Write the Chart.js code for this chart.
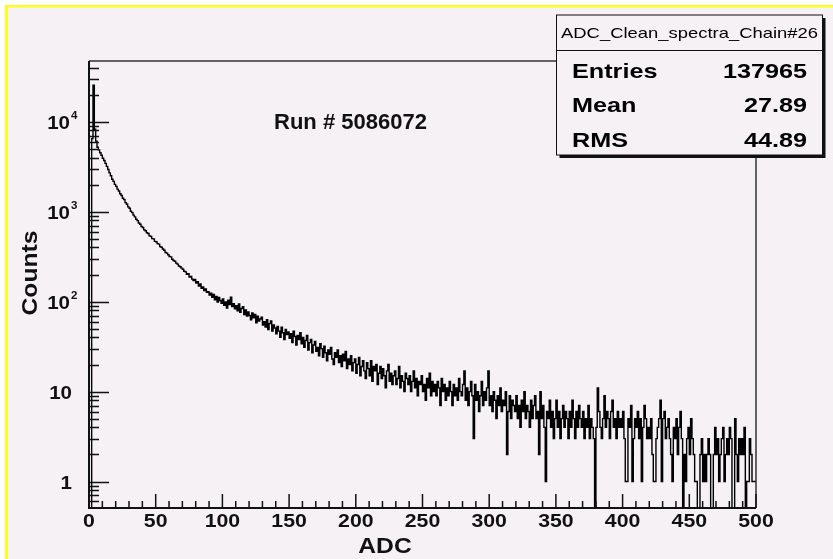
<!DOCTYPE html>
<html>
<head>
<meta charset="utf-8">
<script src="https://cdn.jsdelivr.net/npm/chart.js@4/dist/chart.umd.min.js"></script>
<style>
  html, body { margin: 0; padding: 0; background: #fff; }
  canvas { display: block; }
</style>
</head>
<body>
<canvas id="adcChart" width="833" height="559"></canvas>
<script>
'use strict'
const runLabel = 'Run # 5086072';
const histName = 'ADC_Clean_spectra_Chain#26';
const statNames = ['Entries', 'Mean', 'RMS'];
const statValues = ['137965', '27.89', '44.89'];
const xTitle = 'ADC';
const yTitle = 'Counts';
const xTickValues = [0, 50, 100, 150, 200, 250, 300, 350, 400, 450, 500];
const yTickValues = [1, 10, 100, 1000, 10000];
const yTickBases = ['1', '10', '10', '10', '10'];
const yTickPowers = ['', '', '2', '3', '4'];
const yMin = 0.508;
const yMax = 47300;

// counts per 1-ADC bin, bins 0..499
const adcCounts = [
  0, 0, 0, 6480, 25400, 8260, 6090, 5210, 4860, 4510,
  4240, 3930, 3710, 3440, 3190, 2940, 2700, 2510, 2290, 2170,
  2010, 1910, 1780, 1700, 1580, 1510, 1410, 1360, 1260, 1210,
  1130, 1090, 1010, 975, 915, 876, 822, 796, 748, 726,
  684, 668, 628, 614, 582, 571, 538, 531, 502, 498,
  468, 463, 441, 436, 409, 402, 384, 372, 351, 346,
  332, 318, 314, 296, 287, 281, 268, 261, 249, 244,
  236, 229, 218, 214, 201, 204, 187, 190, 178, 171,
  176, 161, 166, 149, 157, 141, 146, 133, 138, 127,
  129, 118, 124, 112, 120, 105, 114, 99, 111, 103,
  96, 107, 91, 99, 85, 104, 93, 112, 88, 95,
  83, 90, 79, 94, 76, 84, 88, 72, 81, 69,
  77, 70, 63, 75, 66, 72, 58, 69, 61, 64,
  67, 55, 60, 52, 63, 49, 57, 61, 47, 55,
  51, 44, 53, 47, 40, 52, 45, 38, 49, 43,
  46, 39, 44, 35, 47, 41, 33, 42, 38, 45,
  34, 40, 31, 37, 42, 29, 35, 38, 27, 33,
  36, 28, 31, 25, 34, 30, 24, 32, 27, 22,
  29, 26, 31, 23, 20, 27, 24, 29, 21, 25,
  19, 26, 22, 28, 18, 23, 20, 25, 17, 21,
  23, 16, 20, 24, 15, 19, 22, 17, 14, 21,
  18, 15, 22, 13, 19, 17, 20, 12, 16, 19,
  14, 18, 15, 11, 17, 20, 13, 16, 12, 15,
  17, 12, 14, 19, 11, 15, 13, 10, 16, 14,
  12, 15, 10, 13, 17, 11, 14, 9, 13, 12,
  15, 10, 12, 8, 14, 11, 16, 9, 13, 10,
  12, 9, 13, 11, 7, 14, 10, 12, 8, 11,
  9, 13, 10, 7, 12, 9, 11, 8, 14, 10,
  9, 12, 17, 8, 11, 7, 10, 13, 9, 3,
  12, 8, 10, 6, 9, 13, 7, 10, 8, 11,
  17, 7, 9, 6, 10, 8, 5, 9, 7, 11,
  6, 8, 7, 10, 2, 6, 9, 5, 8, 7,
  6, 9, 5, 7, 4, 8, 6, 10, 5, 7,
  6, 4, 8, 5, 7, 9, 5, 6, 2, 10,
  5, 7, 4, 1, 6, 5, 8, 4, 6, 3,
  5, 8, 4, 6, 3, 5, 7, 4, 6, 5,
  3, 6, 4, 8, 5, 3, 6, 4, 7, 5,
  4, 6, 3, 5, 4, 7, 3, 5, 4, 3,
  0, 4, 11, 6, 4, 3, 5, 9, 4, 6,
  5, 3, 6, 8, 4, 5, 3, 6, 4, 5,
  4, 6, 3, 1, 1, 5, 4, 7, 1, 3,
  5, 4, 6, 3, 5, 1, 4, 7, 5, 3,
  4, 3, 5, 2, 1, 1, 3, 4, 5, 8,
  1, 5, 6, 3, 4, 5, 3, 2, 1, 4,
  3, 5, 2, 4, 6, 3, 0, 2, 1, 3,
  4, 2, 5, 3, 2, 1, 1, 0, 0, 2,
  3, 1, 2, 1, 2, 3, 2, 0, 0, 2,
  4, 2, 3, 1, 2, 3, 4, 1, 2, 3,
  2, 4, 3, 0, 0, 5, 2, 1, 3, 2,
  3, 2, 4, 0, 1, 1, 3, 2, 1, 1
];

// empty bins sit on the lower edge of the log axis
let histPoints = adcCounts.map((v, i) => ({ x: i, y: v > 0 ? v : yMin }));
histPoints.push({ x: adcCounts.length, y: histPoints[histPoints.length - 1].y });

const FONT = '"Liberation Sans", Arial, Helvetica, sans-serif';

function drawText(c, str, x, y, align, sx) {
  c.save();
  c.translate(x, y);
  c.scale(sx || 1, 1);
  c.textAlign = align;
  c.fillText(str, 0, 0);
  c.restore();
}

function fitText(c, str, x, y, width, align) {
  const w = c.measureText(str).width;
  drawText(c, str, x, y, align, width / w);
}

const rootFrame = {
  id: 'rootFrame',
  beforeDraw(chart) {
    const c = chart.ctx;
    c.save();
    c.fillStyle = '#ffffff';
    c.fillRect(0, 0, chart.width, chart.height);
    c.fillStyle = '#f5f1f5';
    c.fillRect(8, 7, chart.width - 8, chart.height - 7);
    c.fillStyle = '#ffff22';
    c.fillRect(5, 5, 3, chart.height - 5);
    c.fillRect(5, 5, chart.width - 5, 2.5);
    c.restore();
  },
  afterDatasetsDraw(chart) {
    const c = chart.ctx;
    const a = chart.chartArea;
    const xs = chart.scales.x;
    const ys = chart.scales.y;
    c.save();

    // frame: top and right
    c.lineWidth = 1.5;
    c.strokeStyle = '#333';
    c.beginPath();
    c.moveTo(a.left, a.top);
    c.lineTo(a.right, a.top);
    c.lineTo(a.right, a.bottom);
    c.stroke();

    // axis lines
    c.strokeStyle = '#111';
    c.fillStyle = '#111';
    c.lineWidth = 2;
    c.beginPath();
    c.moveTo(a.left, a.top);
    c.lineTo(a.left, a.bottom);
    c.lineTo(a.right, a.bottom);
    c.stroke();

    // x ticks, major every 50, minor every 10
    c.lineWidth = 1.5;
    c.beginPath();
    for (let v = 0; v <= 500; v += 10) {
      const px = xs.getPixelForValue(v);
      const len = v % 50 === 0 ? 14 : 7;
      c.moveTo(px, a.bottom);
      c.lineTo(px, a.bottom - len);
    }
    // y ticks, decades and 2..9 subdivisions
    for (let d = 0.1; d <= 10000; d *= 10) {
      for (let k = 1; k <= 9; k++) {
        const v = k * d;
        if (v < yMin || v > yMax) continue;
        const py = Math.round(ys.getPixelForValue(v)) + 0.5;
        const len = k === 1 ? 20 : 10;
        c.moveTo(a.left, py);
        c.lineTo(a.left + len, py);
      }
    }
    c.stroke();

    // tick labels
    c.textBaseline = 'alphabetic';
    c.font = 'bold 19px ' + FONT;
    xTickValues.forEach(v => {
      drawText(c, String(v), xs.getPixelForValue(v), 527, 'center', 1.12);
    });
    yTickValues.forEach((v, i) => {
      const py = ys.getPixelForValue(v);
      c.font = 'bold 19px ' + FONT;
      if (yTickPowers[i]) {
        drawText(c, yTickBases[i], 70, py + 7, 'right', 1.08);
        c.font = 'bold 11px ' + FONT;
        drawText(c, yTickPowers[i], 71, py - 3, 'left', 1.05);
      } else {
        drawText(c, yTickBases[i], 72, py + 7, 'right', 1.08);
      }
    });

    // axis titles
    c.font = 'bold 22px ' + FONT;
    drawText(c, xTitle, 385, 553, 'center', 1.12);
    c.save();
    c.translate(37, 273);
    c.rotate(-Math.PI / 2);
    drawText(c, yTitle, 0, 0, 'center', 1.12);
    c.restore();

    // run label
    c.font = 'bold 22px ' + FONT;
    drawText(c, runLabel, 274, 129, 'left', 1.0);

    // stats box with drop shadow
    const bx = 556.5, by = 15, bw = 266, bh = 140;
    c.fillStyle = '#111';
    c.fillRect(bx + 3, by + 3, bw, bh);
    c.fillStyle = '#f5f1f5';
    c.fillRect(bx, by, bw, bh);
    c.strokeStyle = '#111';
    c.lineWidth = 1;
    c.strokeRect(bx, by, bw, bh);
    c.beginPath();
    c.moveTo(bx, 50.5);
    c.lineTo(bx + bw, 50.5);
    c.stroke();

    c.fillStyle = '#000';
    c.font = '15px ' + FONT;
    fitText(c, histName, bx + bw / 2, 38, 257, 'center');
    c.font = 'bold 21px ' + FONT;
    const rowY = [78, 112, 147];
    statNames.forEach((n, i) => {
      drawText(c, n, 572, rowY[i], 'left', 1.2);
      drawText(c, statValues[i], 807, rowY[i], 'right', 1.2);
    });
    c.restore();
  }
};

const ctx = document.getElementById('adcChart').getContext('2d');
const adcChart = new Chart(ctx, {
  type: 'line',
  data: {
    datasets: [{
      label: histName,
      data: histPoints,
      stepped: 'after',
      borderColor: '#000',
      borderWidth: 1.4,
      pointRadius: 0,
      fill: false
    }]
  },
  options: {
    responsive: false,
    animation: false,
    layout: { padding: { left: 89, top: 61, right: 77, bottom: 51 } },
    plugins: {
      legend: { display: false },
      tooltip: { enabled: false }
    },
    scales: {
      x: { type: 'linear', min: 0, max: 500, display: false },
      y: { type: 'logarithmic', min: yMin, max: yMax, display: false }
    }
  },
  plugins: [rootFrame]
});
</script>
</body>
</html>
